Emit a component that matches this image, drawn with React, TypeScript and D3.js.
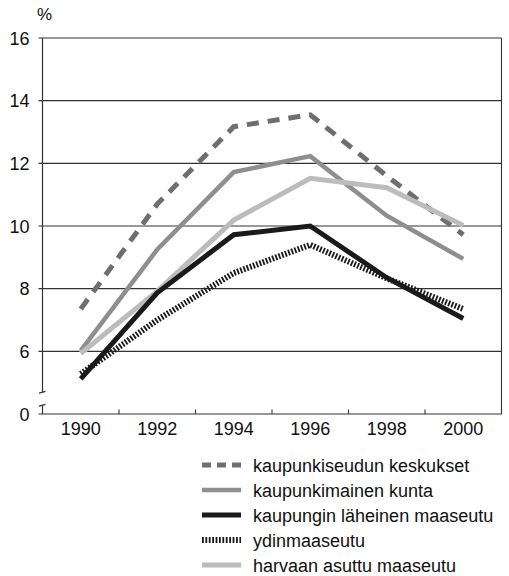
import React from "react";
import * as d3 from "d3";

const years = [1990, 1992, 1994, 1996, 1998, 2000];
const yTicks = [6, 8, 10, 12, 14, 16];
const xMinorTicks = [1991, 1993, 1995, 1997, 1999];

const seriesNames = [
  "kaupunkiseudun keskukset",
  "kaupunkimainen kunta",
  "kaupungin läheinen maaseutu",
  "ydinmaaseutu",
  "harvaan asuttu maaseutu",
];

const keskukset = [7.35, 10.7, 13.17, 13.55, 11.6, 9.72];
const kaupunkimainen = [6.02, 9.25, 11.72, 12.23, 10.33, 8.95];
const laheinen = [5.12, 7.87, 9.72, 10.0, 8.35, 7.05];
const ydin = [5.28, 7.0, 8.5, 9.4, 8.33, 7.35];
const harvaan = [5.93, 7.92, 10.19, 11.52, 11.22, 10.02];

const seriesValues = [keskukset, kaupunkimainen, laheinen, ydin, harvaan];

const styles = [
  { color: "#6e6e6e", width: 5, dash: "12,9", legendDash: "9,6" },
  { color: "#8e8e8e", width: 4.5, dash: null, legendDash: null },
  { color: "#1a1a1a", width: 5, dash: null, legendDash: null },
  { color: "#1a1a1a", width: 6, dash: "1.8,1.6", legendDash: "1.8,1.6" },
  { color: "#bcbcbc", width: 5, dash: null, legendDash: null },
];
// draw order (back to front)
const drawOrder = [0, 1, 4, 3, 2];

const FONT = "'Liberation Sans', Arial, Helvetica, sans-serif";

export default function App() {
  const W = 509;
  const H = 576;
  const x = d3.scaleLinear().domain([1989, 2001]).range([42.5, 501.5]);
  const y = d3.scaleLinear().domain([4, 16]).range([414, 38]);
  const line = d3
    .line<number>()
    .x((_, i) => x(years[i]))
    .y((d) => y(d));

  const axisColor = "#333";
  const left = x(1989);
  const right = x(2001);
  const bottom = y(4);
  const breakTop = 392;
  const breakBottom = 405;

  const legendY = [465, 490, 515, 540, 565];

  return (
    <svg
      width={W}
      height={H}
      style={{ position: "absolute", left: 0, top: 0 }}
      fontFamily={FONT}
    >
      <rect x={0} y={0} width={W} height={H} fill="#fff" />
      {/* gridlines */}
      {yTicks.map((t) => (
        <line
          key={"g" + t}
          x1={left - 4}
          x2={right}
          y1={y(t)}
          y2={y(t)}
          stroke={axisColor}
          strokeWidth={1.1}
        />
      ))}
      {/* right border */}
      <line x1={right} x2={right} y1={y(16)} y2={bottom} stroke={axisColor} strokeWidth={1.1} />
      {/* left axis with break */}
      <line x1={left} x2={left} y1={y(16)} y2={breakTop} stroke={axisColor} strokeWidth={1.2} />
      <line x1={left} x2={left} y1={breakBottom} y2={bottom} stroke={axisColor} strokeWidth={1.2} />
      <line x1={left - 3.5} x2={left + 3} y1={breakTop + 1.2} y2={breakTop - 0.6} stroke={axisColor} strokeWidth={1.2} />
      <line x1={left - 3.5} x2={left + 3} y1={breakBottom + 1.2} y2={breakBottom - 0.6} stroke={axisColor} strokeWidth={1.2} />
      {/* bottom axis */}
      <line x1={left - 4} x2={right} y1={bottom} y2={bottom} stroke={axisColor} strokeWidth={1.2} />
      {xMinorTicks.map((t) => (
        <line key={"xt" + t} x1={x(t)} x2={x(t)} y1={bottom} y2={bottom - 4.5} stroke={axisColor} strokeWidth={1.1} />
      ))}
      {/* y labels */}
      {yTicks.map((t) => (
        <text key={"yl" + t} x={29.5} y={y(t) + 6.5} fontSize={18} textAnchor="end" fill="#111">
          {t}
        </text>
      ))}
      <text x={29.5} y={bottom + 6.5} fontSize={18} textAnchor="end" fill="#111">
        0
      </text>
      <text x={37} y={20} fontSize={17} fill="#111">
        %
      </text>
      {/* x labels */}
      {years.map((yr) => (
        <text key={"xl" + yr} x={x(yr)} y={435} fontSize={18} textAnchor="middle" fill="#111">
          {yr}
        </text>
      ))}
      {/* series */}
      {drawOrder.map((i) => (
        <path
          key={"s" + i}
          d={line(seriesValues[i]) || ""}
          fill="none"
          stroke={styles[i].color}
          strokeWidth={styles[i].width}
          strokeDasharray={styles[i].dash || undefined}
          strokeLinejoin="miter"
          strokeLinecap="butt"
        />
      ))}
      {/* legend */}
      {seriesNames.map((name, i) => (
        <g key={"lg" + i}>
          <line
            x1={202}
            x2={241}
            y1={legendY[i]}
            y2={legendY[i]}
            stroke={styles[i].color}
            strokeWidth={styles[i].width}
            strokeDasharray={styles[i].legendDash || undefined}
          />
          <text x={253} y={legendY[i] + 6.5} fontSize={18} fill="#111">
            {name}
          </text>
        </g>
      ))}
    </svg>
  );
}
